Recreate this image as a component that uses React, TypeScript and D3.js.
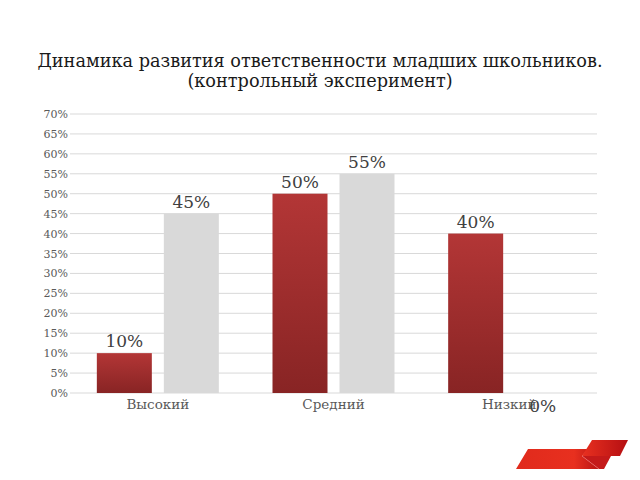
import React from "react";
import * as d3 from "d3";

const categories = ["Высокий", "Средний", "Низкий"];
const series1 = [10, 50, 40];
const series2 = [45, 55, 0];
const yTicks = [0, 5, 10, 15, 20, 25, 30, 35, 40, 45, 50, 55, 60, 65, 70];
const titleLines = [
  "Динамика развития ответственности младших школьников.",
  "(контрольный эксперимент)",
];

const W = 640;
const H = 480;
const left = 70;
const right = 597;
const top = 114;
const bottom = 393;
const FONT = "'DejaVu Serif', serif";

export default function App() {
  const x = d3.scaleBand<string>().domain(categories).range([left, right]).padding(0);
  const y = d3.scaleLinear().domain([0, 70]).range([bottom, top]);
  const barW = 55;
  const gap = 12;
  const cats = categories.map((c, i) => {
    const cx = (x(c) as number) + x.bandwidth() / 2;
    return { c, cx, v1: series1[i], v2: series2[i] };
  });
  return (
    <svg
      width={W}
      height={H}
      style={{ position: "absolute", left: 0, top: 0, background: "#fff" }}
    >
      <defs>
        <linearGradient id="redGrad" x1="0" y1="0" x2="0" y2="1">
          <stop offset="0%" stopColor="#b33636" />
          <stop offset="100%" stopColor="#882424" />
        </linearGradient>
        <linearGradient id="logoGrad" x1="0" y1="0" x2="1" y2="0">
          <stop offset="0%" stopColor="#e02a1c" />
          <stop offset="70%" stopColor="#e8301f" />
          <stop offset="100%" stopColor="#b81414" />
        </linearGradient>
        <linearGradient id="logoGrad2" x1="0" y1="0" x2="1" y2="0">
          <stop offset="0%" stopColor="#e83020" />
          <stop offset="100%" stopColor="#b50f12" />
        </linearGradient>
      </defs>
      {titleLines.map((t, i) => (
        <text
          key={i}
          x={320}
          y={67 + i * 20}
          textAnchor="middle"
          fontFamily={FONT}
          fontSize={17.7}
          fill="#1a1a1a"
        >
          {t}
        </text>
      ))}
      {yTicks.map((t) => (
        <g key={t}>
          <line x1={left} x2={right} y1={y(t)} y2={y(t)} stroke="#d9d9d9" strokeWidth={1} />
          <text
            x={left - 2}
            y={y(t) + 4}
            textAnchor="end"
            fontFamily={FONT}
            fontSize={11}
            fill="#595959"
          >
            {t}%
          </text>
        </g>
      ))}
      {cats.map((d) => {
        const x1 = d.cx - gap / 2 - barW;
        const x2 = d.cx + gap / 2;
        return (
          <g key={d.c}>
            <rect x={x1} y={y(d.v1)} width={barW} height={y(0) - y(d.v1)} fill="url(#redGrad)" />
            <rect x={x2} y={y(d.v2)} width={barW} height={y(0) - y(d.v2)} fill="#d9d9d9" />
            <text
              x={d.cx}
              y={bottom + 16}
              textAnchor="middle"
              fontFamily={FONT}
              fontSize={13.5}
              fill="#595959"
            >
              {d.c}
            </text>
            <text
              x={x1 + barW / 2}
              y={d.v1 === 0 ? bottom + 19 : y(d.v1) - 6}
              textAnchor="middle"
              fontFamily={FONT}
              fontSize={17}
              fill="#404040"
            >
              {d.v1}%
            </text>
            <text
              x={x2 + barW / 2}
              y={d.v2 === 0 ? bottom + 19 : y(d.v2) - 6}
              textAnchor="middle"
              fontFamily={FONT}
              fontSize={17}
              fill="#404040"
            >
              {d.v2}%
            </text>
          </g>
        );
      })}
      <g>
        <polygon points="516,469 528,449 588,449 582,456 599,469" fill="url(#logoGrad)" />
        <polygon points="582,456 599,469 604,469 611,456" fill="#c41a1a" />
        <polygon points="582,456 592,440 628,440 620,456" fill="url(#logoGrad2)" />
        <line x1={582} y1={456} x2={599} y2={469} stroke="#f07070" strokeWidth={0.6} />
      </g>
    </svg>
  );
}
